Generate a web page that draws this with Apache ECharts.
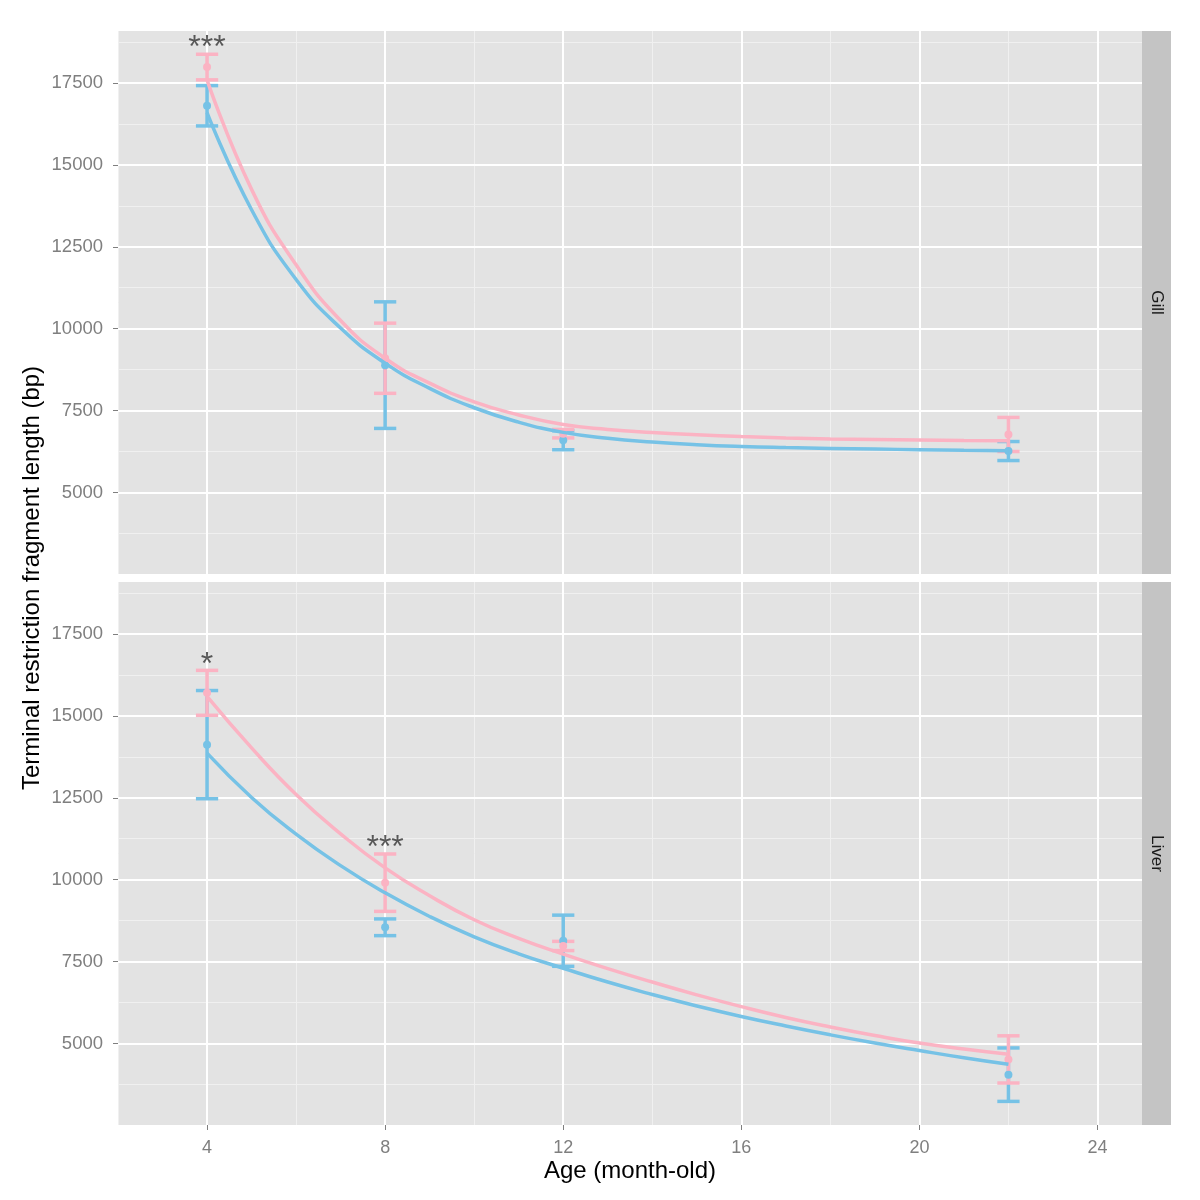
<!DOCTYPE html>
<html>
<head>
<meta charset="utf-8">
<script src="https://cdn.jsdelivr.net/npm/echarts@6/dist/echarts.min.js"></script>
<style>
html,body{margin:0;padding:0;background:#fff;}
#chart{width:1200px;height:1200px;}
</style>
</head>
<body>
<div id="chart"></div>
<script>
// ---------------- DATA ----------------
const panels = ['Gill', 'Liver'];
const ages = [4, 8, 12, 22];

// measured means and error half-widths (bp)
const gillPinkMean = [17980, 9100, 6800, 6775];
const gillPinkErr  = [390, 1070, 130, 520];
const gillBlueMean = [16800, 8890, 6600, 6270];
const gillBlueErr  = [615, 1930, 290, 290];

const liverPinkMean = [15700, 9910, 7980, 4520];
const liverPinkErr  = [685, 875, 140, 720];
const liverBlueMean = [14120, 8550, 8140, 4055];
const liverBlueErr  = [1650, 255, 780, 815];

// fitted curves (one reading per month, 4..22)
const curveX = [4, 5, 6, 7, 8, 9, 10, 11, 12, 13, 14, 15, 16, 17, 18, 19, 20, 21, 22];
const gillPinkCurve  = [17590, 14250, 11950, 10250, 9100, 8340, 7770, 7370, 7080, 6930, 6835, 6765, 6710, 6670, 6640, 6620, 6605, 6593, 6585];
const gillBlueCurve  = [16590, 13630, 11500, 10020, 8950, 8180, 7590, 7150, 6840, 6660, 6545, 6465, 6410, 6375, 6350, 6330, 6312, 6295, 6280];
const liverPinkCurve = [15590, 14020, 12600, 11400, 10360, 9510, 8780, 8210, 7730, 7290, 6880, 6490, 6130, 5800, 5510, 5250, 5020, 4840, 4680];
const liverBlueCurve = [13860, 12510, 11390, 10430, 9600, 8880, 8260, 7740, 7300, 6880, 6500, 6150, 5830, 5540, 5270, 5020, 4790, 4570, 4370];

// significance marks: [age, y, text]
const gillMarks  = [[4, 18560, '***']];
const liverMarks = [[4, 16540, '*'], [8, 10970, '***']];

// axes / ticks
const xMin = 2, xMax = 25;
const yMin = 2520, yMax = 19080;
const xTicks = [4, 8, 12, 16, 20, 24];
const xMinor = [2, 6, 10, 14, 18, 22];
const yTicks = [5000, 7500, 10000, 12500, 15000, 17500];
const yMinor = [3750, 6250, 8750, 11250, 13750, 16250, 18750];

const xTitle = 'Age (month-old)';
const yTitle = 'Terminal restriction fragment length (bp)';

// ---------------- STYLE ----------------
const PINK = '#FBB3C3';
const BLUE = '#76C2E6';
const PANEL_BG = '#E3E3E3';
const STRIP_BG = '#C4C4C4';
const TICK_COLOR = '#7F7F7F';
const FONT = 'Liberation Sans, Arial, Helvetica, sans-serif';
const capHalf = 0.25;

const gridLeft = 118, gridRight = 58;
const gridTops = [31, 582];
const gridH = 543;

const chart = echarts.init(document.getElementById('chart'), null, {renderer: 'canvas'});

function errRender(color) {
  return function (params, api) {
    const x = api.value(0), m = api.value(1), e = api.value(2);
    const t = api.coord([x, m + e]);
    const b = api.coord([x, m - e]);
    const tl = api.coord([x - capHalf, m + e]);
    const tr = api.coord([x + capHalf, m + e]);
    const bl = api.coord([x - capHalf, m - e]);
    const br = api.coord([x + capHalf, m - e]);
    const st = {stroke: color, lineWidth: 3.5, lineCap: 'butt'};
    return {
      type: 'group',
      children: [
        {type: 'line', shape: {x1: t[0], y1: t[1], x2: b[0], y2: b[1]}, style: st},
        {type: 'line', shape: {x1: tl[0], y1: tl[1], x2: tr[0], y2: tr[1]}, style: st},
        {type: 'line', shape: {x1: bl[0], y1: bl[1], x2: br[0], y2: br[1]}, style: st}
      ]
    };
  };
}

const grids = [], xAxes = [], yAxes = [], series = [], graphics = [];

const panelData = [
  {pinkMean: gillPinkMean, pinkErr: gillPinkErr, blueMean: gillBlueMean, blueErr: gillBlueErr,
   pinkCurve: gillPinkCurve, blueCurve: gillBlueCurve, marks: gillMarks},
  {pinkMean: liverPinkMean, pinkErr: liverPinkErr, blueMean: liverBlueMean, blueErr: liverBlueErr,
   pinkCurve: liverPinkCurve, blueCurve: liverBlueCurve, marks: liverMarks}
];

panels.forEach((name, p) => {
  const isBottom = p === panels.length - 1;
  grids.push({left: gridLeft, right: gridRight, top: gridTops[p], height: gridH,
    show: true, backgroundColor: PANEL_BG, borderWidth: 0, containLabel: false});
  xAxes.push({
    type: 'value', gridIndex: p, min: xMin, max: xMax,
    axisLine: {show: false},
    splitLine: {show: false},
    axisTick: {show: isBottom, length: 5, lineStyle: {color: TICK_COLOR, width: 1}, customValues: xTicks},
    axisLabel: {show: isBottom, customValues: xTicks, color: TICK_COLOR, fontSize: 18, fontFamily: FONT, margin: 14},
    name: isBottom ? xTitle : '',
    nameLocation: 'middle', nameGap: 34,
    nameTextStyle: {color: '#000', fontSize: 24, fontFamily: FONT}
  });
  yAxes.push({
    type: 'value', gridIndex: p, min: yMin, max: yMax,
    axisLine: {show: false},
    splitLine: {show: false},
    axisTick: {show: true, length: 5, lineStyle: {color: TICK_COLOR, width: 1}, customValues: yTicks},
    axisLabel: {customValues: yTicks, formatter: v => String(v), color: TICK_COLOR, fontSize: 18.5, fontFamily: FONT, margin: 15}
  });

  // gridlines as marklines on a background series
  const ml = [];
  xMinor.forEach(v => ml.push({xAxis: v, lineStyle: {color: '#F0F0F0', width: 1, type: 'solid'}}));
  yMinor.forEach(v => ml.push({yAxis: v, lineStyle: {color: '#F0F0F0', width: 1, type: 'solid'}}));
  xTicks.forEach(v => ml.push({xAxis: v, lineStyle: {color: '#FFFFFF', width: 2, type: 'solid'}}));
  yTicks.forEach(v => ml.push({yAxis: v, lineStyle: {color: '#FFFFFF', width: 2, type: 'solid'}}));
  series.push({
    type: 'line', xAxisIndex: p, yAxisIndex: p, data: [], z: 1, silent: true,
    markLine: {z: 1, silent: true, symbol: ['none', 'none'], label: {show: false}, animation: false,
      emphasis: {disabled: true}, data: ml}
  });

  const d = panelData[p];
  const groups = [
    {mean: d.blueMean, err: d.blueErr, color: BLUE},
    {mean: d.pinkMean, err: d.pinkErr, color: PINK}
  ];
  groups.forEach(g => {
    series.push({
      type: 'custom', xAxisIndex: p, yAxisIndex: p, z: 3,
      renderItem: errRender(g.color),
      encode: {x: 0, y: 1},
      data: ages.map((a, i) => [a, g.mean[i], g.err[i]]),
      animation: false
    });
    series.push({
      type: 'scatter', xAxisIndex: p, yAxisIndex: p, z: 3,
      symbolSize: 8, itemStyle: {color: g.color, opacity: 1},
      data: ages.map((a, i) => [a, g.mean[i]]),
      animation: false
    });
  });
  [[d.blueCurve, BLUE], [d.pinkCurve, PINK]].forEach(([c, col]) => {
    series.push({
      type: 'line', xAxisIndex: p, yAxisIndex: p, z: 4,
      showSymbol: false, smooth: 0.5,
      lineStyle: {color: col, width: 3.5},
      data: curveX.map((x, i) => [x, c[i]]),
      animation: false
    });
  });
  series.push({
    type: 'scatter', xAxisIndex: p, yAxisIndex: p, z: 5,
    symbolSize: 1, itemStyle: {color: 'rgba(0,0,0,0)'},
    label: {show: true, position: 'inside', formatter: q => q.data[2],
      color: '#333', fontSize: 32, fontFamily: FONT},
    data: d.marks,
    animation: false
  });

  // strip
  const top = gridTops[p];
  graphics.push({type: 'rect', left: 1142, top: top, shape: {width: 29, height: gridH},
    style: {fill: STRIP_BG}, silent: true});
  graphics.push({type: 'text', x: 1157, y: top + gridH / 2, rotation: -Math.PI / 2,
    style: {text: name, fill: '#1A1A1A', font: '17px ' + FONT, textAlign: 'center', textVerticalAlign: 'middle'}});
});

graphics.push({type: 'text', x: 32, y: (gridTops[0] + gridTops[1] + gridH) / 2, rotation: Math.PI / 2,
  style: {text: yTitle, fill: '#000', font: '24px ' + FONT, textAlign: 'center', textVerticalAlign: 'middle'}});

chart.setOption({
  animation: false,
  backgroundColor: '#FFFFFF',
  grid: grids,
  xAxis: xAxes,
  yAxis: yAxes,
  series: series,
  graphic: graphics
});
</script>
</body>
</html>
